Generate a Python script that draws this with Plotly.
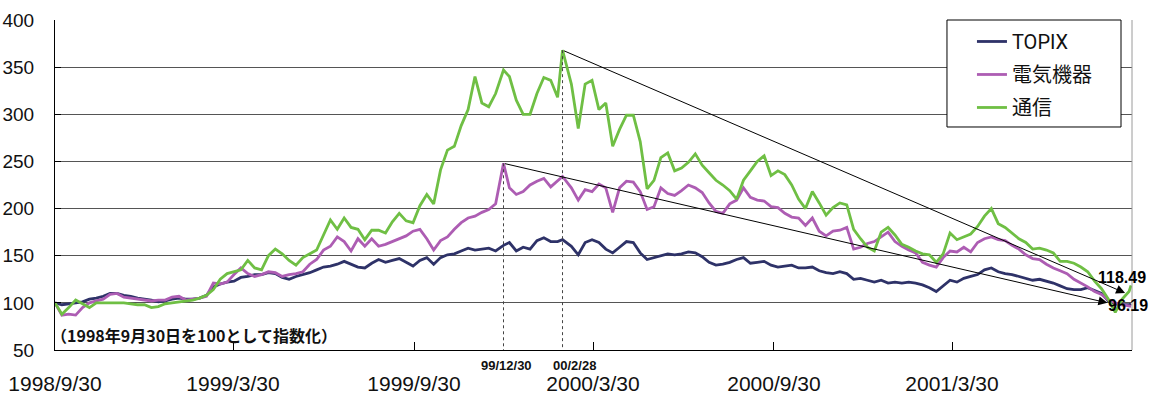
import pandas as pd
import plotly.graph_objects as go

# Weekly observation dates; the two peak weeks carry their exact dates
dates = list(pd.date_range("1998-09-30", "2001-09-26", freq="7D"))
dates[65] = pd.Timestamp("1999-12-30")
dates[74] = pd.Timestamp("2000-02-28")
dates.append(pd.Timestamp("2001-09-28"))

# Indexed levels (1998/9/30 = 100)
topix = [
    100, 98, 99, 100, 101, 104, 105, 107, 110, 110,
    108, 107, 105, 104, 103, 101, 102, 104, 105, 104,
    104, 105, 108, 117, 120, 122, 123, 127, 128, 130,
    130, 132, 131, 127, 125, 128, 130, 132, 135, 138,
    139, 141, 144, 141, 138, 137, 142, 146, 143, 145,
    147, 143, 139, 145, 148, 141, 148, 151, 152, 155,
    158, 156, 157, 158, 155, 161, 164, 155, 159, 157,
    166, 169, 165, 165, 167, 160, 151, 164, 167, 164,
    157, 153, 159, 165, 164, 153, 146, 148, 150, 152,
    151, 152, 154, 153, 149, 143, 140, 141, 143, 146,
    148, 142, 143, 144, 140, 138, 139, 140, 137, 137,
    138, 134, 132, 131, 133, 131, 125, 126, 124, 122,
    124, 121, 122, 121, 122, 121, 119, 116, 112, 118,
    124, 122, 126, 128, 130, 135, 137, 133, 131, 130,
    128, 126, 124, 125, 123, 121, 118, 115, 114, 114,
    116, 113, 110, 102, 99, 98, 98, 99,
]
denki = [
    100, 87, 88, 87, 95, 100, 102, 104, 109, 110,
    106, 105, 104, 103, 102, 103, 103, 106, 107, 103,
    104, 105, 107, 121, 120, 122, 130, 137, 131, 128,
    130, 133, 132, 128, 130, 131, 133, 141, 146, 156,
    160, 170, 165, 155, 168, 160, 168, 160, 162, 165,
    168, 171, 176, 178, 168, 156, 166, 170, 178, 185,
    190, 192, 196, 199, 205, 248, 222, 215, 218, 225,
    229, 232, 223, 230, 234, 222, 209, 220, 218, 226,
    222, 196, 222, 229, 228, 218, 199, 202, 222, 216,
    214, 219, 225, 222, 217, 206, 197, 195, 205, 209,
    222, 212, 209, 208, 202, 201, 195, 191, 190, 182,
    190, 176, 171, 176, 177, 180, 157, 159, 163, 165,
    170, 175, 165, 160, 156, 153, 143, 140, 138, 148,
    155, 154, 159, 154, 164, 168, 170, 167, 166, 161,
    157, 151, 147, 146, 141, 137, 134, 131, 125, 121,
    117, 112, 109, 103, 100, 98, 97, 96.19,
]
tsushin = [
    100, 88, 95, 103, 99, 95, 100, 100, 100, 100,
    100, 99, 98, 98, 95, 96, 99, 100, 101, 102,
    103, 105, 108, 114, 125, 131, 133, 135, 145, 137,
    135, 150, 157, 152, 145, 140, 148, 152, 156, 172,
    188, 178, 190, 180, 178, 167, 177, 177, 174, 186,
    195, 187, 185, 203, 215, 205, 241, 262, 266, 288,
    305, 340, 312, 308, 322, 347, 340, 315, 300, 300,
    322, 339, 336, 318, 368, 332, 285, 332, 336, 305,
    312, 266, 284, 299, 299, 271, 221, 230, 254, 259,
    240, 243, 249, 258, 246, 238, 230, 225, 219, 210,
    230, 240, 250, 256, 235, 240, 236, 225, 210, 200,
    218, 206, 193, 201, 206, 204, 178, 168, 159, 155,
    175, 180, 172, 162, 159, 155, 152, 151, 143, 152,
    174, 167, 170, 173, 181, 192, 200, 184, 180, 174,
    168, 164, 157, 158, 156, 153, 144, 144, 142, 138,
    133, 123, 115, 104, 90, 104, 112, 118.49,
]

series_names = ["TOPIX", "電気機器", "通信"]
series_colors = ["#2E3268", "#AD5DB3", "#6FBF44"]

tick_dates = ["1998-09-30", "1999-03-30", "1999-09-30",
              "2000-03-30", "2000-09-30", "2001-03-30"]
tick_text = ["1998/9/30", "1999/3/30", "1999/9/30",
             "2000/3/30", "2000/9/30", "2001/3/30"]

SANS = "Liberation Sans, Arial, Noto Sans CJK JP, sans-serif"
LEGEND_FONT = "Roboto, Noto Sans CJK JP, sans-serif"
GOTHIC = "Noto Sans CJK JP, sans-serif"

fig = go.Figure()
for name, vals, col in zip(series_names, [topix, denki, tsushin], series_colors):
    fig.add_trace(go.Scatter(
        x=dates, y=vals, name=name, mode="lines", legendgroup=name,
        line=dict(color=col, width=2.8),
    ))

# peaks of the two sector indices (start of the trend arrows)
i_d = max(range(len(denki)), key=lambda i: denki[i])
i_t = max(range(len(tsushin)), key=lambda i: tsushin[i])
peak_d_date, peak_d = dates[i_d], denki[i_d]
peak_t_date, peak_t = dates[i_t], tsushin[i_t]

shapes = [
    # dotted drop lines from the peaks
    dict(type="line", xref="x", yref="y", x0=peak_d_date, x1=peak_d_date,
         y0=peak_d, y1=50, line=dict(color="#444", width=1, dash="dot")),
    dict(type="line", xref="x", yref="y", x0=peak_t_date, x1=peak_t_date,
         y0=peak_t, y1=50, line=dict(color="#444", width=1, dash="dot")),
    # right frame edge
    dict(type="line", xref="paper", yref="paper", x0=1, x1=1, y0=0, y1=1,
         line=dict(color="#9a9a9a", width=1)),
    # legend frame
    dict(type="rect", xref="paper", yref="paper", x0=0.8282, x1=0.9898,
         y0=0.6758, y1=1.0, line=dict(color="black", width=1),
         fillcolor="white", layer="above"),
]

annotations = [
    dict(x=0.0, y=0.0455, xref="paper", yref="paper", xshift=-6,
         xanchor="left", yanchor="middle", showarrow=False,
         text="（1998年9月30日を100として指数化）",
         font=dict(family=GOTHIC, size=16, color="#111", weight="bold")),
    dict(x=peak_d_date, y=-0.0455, xref="x", yref="paper", xanchor="center",
         xshift=3, yanchor="middle", showarrow=False, text="99/12/30",
         font=dict(family=SANS, size=13, color="#111", weight="bold")),
    dict(x=peak_t_date, y=-0.0455, xref="x", yref="paper", xanchor="left",
         xshift=-12, yanchor="middle", showarrow=False, text="00/2/28",
         font=dict(family=SANS, size=13, color="#111", weight="bold")),
    # trend arrows from each peak to the latest level
    dict(x="2001-09-22", y=110.5, xref="x", yref="y",
         ax=peak_t_date, ay=peak_t, axref="x", ayref="y", text="",
         showarrow=True, arrowhead=2, arrowsize=1.8, arrowwidth=1,
         arrowcolor="black"),
    dict(x="2001-09-04", y=100, xref="x", yref="y",
         ax=peak_d_date, ay=peak_d, axref="x", ayref="y", text="",
         showarrow=True, arrowhead=2, arrowsize=1.8, arrowwidth=1,
         arrowcolor="black"),
    # latest levels of the two sector indices
    dict(x=1.0149, y=127, xref="paper", yref="y", showarrow=False,
         text=f"{tsushin[-1]:.2f}", xanchor="right", yanchor="middle",
         font=dict(family=SANS, size=16, color="black", weight="bold")),
    dict(x=1.0167, y=97.5, xref="paper", yref="y", showarrow=False,
         text=f"{denki[-1]:.2f}", xanchor="right", yanchor="middle",
         font=dict(family=SANS, size=16, color="black", weight="bold")),
]

fig.update_layout(
    width=1155, height=397,
    margin=dict(l=55, r=23, t=20, b=47),
    paper_bgcolor="white", plot_bgcolor="white",
    shapes=shapes, annotations=annotations,
    showlegend=True,
    legend=dict(x=0.8514, y=0.994, xanchor="left", yanchor="top",
                traceorder="grouped", tracegroupgap=4,
                bgcolor="rgba(0,0,0,0)", borderwidth=0,
                font=dict(family=LEGEND_FONT, size=20, color="#111")),
    xaxis=dict(
        type="date", range=["1998-09-30", "2001-09-29"], automargin=False,
        tickmode="array", tickvals=tick_dates, ticktext=tick_text,
        ticks="inside", ticklen=8, tickcolor="black", tickwidth=1,
        showgrid=False, showline=True, linecolor="black", linewidth=1,
        tickfont=dict(family=SANS, size=21, color="#111"),
        ticklabelstandoff=15, zeroline=False,
    ),
    yaxis=dict(
        range=[50, 400], tickmode="linear", tick0=50, dtick=50,
        automargin=False,
        ticks="inside", ticklen=6, tickcolor="black",
        showgrid=True, gridcolor="#555", gridwidth=1,
        showline=True, linecolor="black", linewidth=1,
        tickfont=dict(family=SANS, size=19, color="#111"),
        ticklabelstandoff=16, zeroline=False,
    ),
)

fig.write_html("out.html")
